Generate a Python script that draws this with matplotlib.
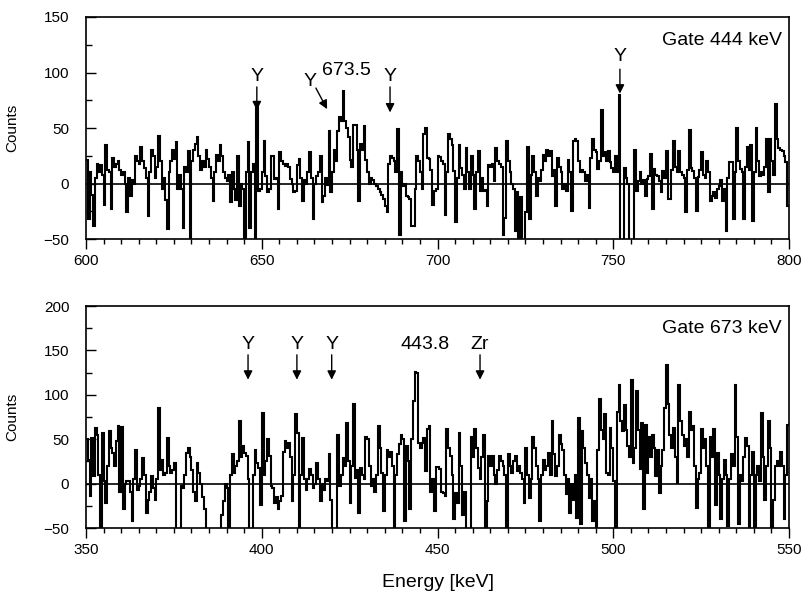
import numpy as np
import matplotlib
matplotlib.use("Agg")
import matplotlib.pyplot as plt
from matplotlib.ticker import MultipleLocator

plt.rcParams['font.family'] = ['Liberation Sans', 'DejaVu Sans']

# ---------------- data ----------------
bin_width = 0.5
top_range = (600, 800)
bottom_range = (350, 550)

# Gate 444 keV spectrum, 0.5 keV bins from 600 keV
top_counts = [
    21, -32, 10, -10, -38, 5, 18, 10, 17, 8,
    -19, 35, 12, 10, -23, 23, 15, 18, 20, 12,
    8, 10, 0, -26, 5, -11, 3, 0, 25, 20,
    18, 33, 20, 14, 5, -29, 10, 30, 25, 5,
    15, 43, 20, -5, 5, -15, -41, 10, 20, 30,
    22, 37, -5, 8, -5, -40, 15, 10, 29, -55,
    20, 30, 36, 42, 25, 12, 20, 15, 30, 22,
    15, 5, -16, 10, 26, 20, 35, 25, 10, 5,
    2, 8, -17, 10, -5, -15, 25, -20, 0, -5,
    -55, 10, 37, -40, 10, 18, -55, 71, -7, -5,
    10, 38, 7, -8, -5, 25, 25, 4, 5, -23,
    28, 20, 18, 16, 18, 15, 4, 0, -8, -7,
    17, 22, 5, -16, 3, 0, 10, 28, 5, -32,
    0, 7, 10, 25, -17, -11, 5, -1, 47, -8,
    10, 30, 20, 47, 60, 56, 83, 56, 50, 42,
    21, 15, 53, 53, 30, -16, 36, 30, 52, 21,
    10, 0, 5, 3, 0, -2, -5, -8, -10, -14,
    -20, -26, 18, 25, 23, 20, 10, 49, -46, 10,
    -2, 0, -11, -12, -14, -38, -38, -5, 25, 20,
    10, -5, 45, 50, 23, 22, 12, -19, -7, -5,
    25, 24, 20, 18, -28, 10, 45, 40, 35, 11,
    -35, 5, 35, 14, 8, -5, 32, 10, -5, 25,
    8, -23, 10, 29, -7, 5, -7, -6, -20, 17,
    15, 18, 2, 32, 20, 18, 15, -46, -31, 38,
    20, 10, 0, -5, -43, -8, -55, -12, -55, -55,
    -26, 33, -32, 8, 25, 10, -11, 5, 2, 12,
    26, 20, 30, 25, 29, 7, 12, -20, 23, 15,
    10, -5, 0, -7, 21, 10, -25, 38, 40, 38,
    20, 10, 12, 10, 2, 8, -22, 23, 40, 30,
    28, 13, 20, 66, 25, 28, 20, 29, 19, 14,
    10, 25, 10, 80, -55, -55, 14, 5, 0, -55,
    -55, -55, 30, -7, 2, 10, 0, 3, -11, 4,
    7, 27, -23, 13, 8, 7, 2, -8, 11, 5,
    29, -14, -14, 12, 38, 15, 10, 29, 10, 8,
    5, -26, 12, 48, 14, 11, 5, -25, 6, 12,
    28, 8, 5, 20, 10, -16, -11, -8, -13, -5,
    -2, 3, -16, -5, -43, 5, 19, 19, -32, 10,
    50, 20, 13, 10, -32, 15, 33, 12, 35, -34,
    10, 50, 20, 7, 10, 8, 15, 40, -8, 40,
    20, 8, 72, 40, 32, 30, 29, 25, 19, -20,
]

# Gate 673 keV spectrum, 0.5 keV bins from 350 keV
bottom_counts = [
    50, 27, -14, 51, 8, 63, 55, 10, -55, 57,
    3, -22, 20, 59, 40, 35, 20, 48, 65, -10,
    64, -29, 0, 3, 3, -10, -42, 5, 38, -7,
    -3, 5, 29, 10, -33, -18, -10, 8, -5, -18,
    5, 85, 15, 27, 10, 12, 51, 20, 12, 15,
    23, -55, -55, -55, -3, -5, 10, 35, 40, 30,
    15, -10, -20, 23, 12, 0, -15, -29, -55, -60,
    -60, -60, -60, -60, -60, -60, -55, -35, -20, 0,
    -5, -55, 10, 33, 12, 20, 25, 70, 30, 42,
    35, 31, 5, -55, -55, 10, 38, 23, 18, -24,
    80, 10, 25, 50, 31, -3, -5, -22, -15, -29,
    -20, -14, 36, 48, 40, 46, 30, -20, 10, 78,
    57, -55, 10, 51, 5, -7, 5, 16, 10, -5,
    0, 23, 5, -20, 0, -7, 5, 3, 33, -18,
    -55, -55, -55, 55, -3, 10, 29, 20, 68, 25,
    -22, 20, 90, 6, 15, -33, 18, 10, 5, 53,
    50, 20, -3, 5, -9, 10, 65, 40, 12, -31,
    10, 38, 30, 36, 20, -55, 10, 33, 45, 55,
    50, -42, 42, 25, -29, 50, 93, 126, 124, 46,
    40, 46, 51, 14, 61, 65, -10, 5, -31, 19,
    19, 16, -9, -11, -14, 61, 40, 31, 10, -40,
    -11, -22, 57, 20, -35, -10, -55, -55, -55, 53,
    30, 61, 40, 18, 5, 30, 55, -55, -20, 31,
    20, 31, 10, 0, 15, 31, 25, 20, 10, -55,
    33, 20, 12, 25, 31, 14, 20, 12, 5, -22,
    40, 10, -16, 5, 53, 40, 20, 5, -42, 10,
    27, 15, 20, 35, 10, 70, 33, 8, 20, 55,
    45, 38, 10, -12, 5, -33, 0, -18, 10, -39,
    74, -46, 59, 40, 23, 10, -16, 5, -42, -20,
    -55, 38, 95, 60, 50, 78, 12, 10, 63, 40,
    3, -55, 81, 111, 70, 59, 89, 60, 42, 30,
    117, 23, 40, 104, 60, 16, 68, -29, 66, 12,
    53, 30, 55, 40, 8, 38, -11, 20, 38, 85,
    134, 90, 55, 40, 63, 30, 1, 111, 70, 55,
    42, 50, 30, 81, 60, 65, 20, -27, 5, 12,
    61, 40, 50, 20, -55, 53, 30, 61, -24, 35,
    10, -40, 5, 27, 10, -48, 5, 33, 20, 111,
    53, -46, 10, 3, 30, 51, 42, -55, 10, 36,
    -55, 10, 20, 3, 80, 30, -18, 20, 70, 40,
    -55, -18, 20, 25, 20, 36, 20, -40, 10, 66,
]

top_ylim = (-50, 150)
bottom_ylim = (-50, 200)
top_xticks = [600, 650, 700, 750, 800]
bottom_xticks = [350, 400, 450, 500, 550]
top_yticks = [-50, 0, 50, 100, 150]
bottom_yticks = [-50, 0, 50, 100, 150, 200]

# annotations: (label, energy, text_y, arrow_start_y, arrow_end_y)
top_marks = [("Y", 648.6, 96, 87, 66), ("Y", 686.5, 96, 87, 64), ("Y", 751.9, 114, 103, 81)]
bottom_marks = [("Y", 396.1, 157, 145, 117), ("Y", 410.0, 157, 145, 117),
                ("Y", 419.9, 157, 145, 117), ("Zr", 462.1, 157, 145, 117)]

# ---------------- figure ----------------
fig = plt.figure(figsize=(8.06, 5.98), dpi=100)
ax1 = fig.add_axes([86/806, 1-239/598, 703/806, 222/598])
ax2 = fig.add_axes([86/806, 1-528/598, 703/806, 222/598])

def draw(ax, counts, xr, ylim, xticks, yticks):
    edges = xr[0] + bin_width*np.arange(len(counts)+1)
    ax.stairs(counts, edges, baseline=None, color='black', lw=1.5)
    ax.axhline(0, color='black', lw=1.2)
    ax.set_xlim(*xr)
    ax.set_ylim(*ylim)
    ax.set_xticks(xticks)
    ax.set_yticks(yticks)
    ax.xaxis.set_minor_locator(MultipleLocator(5))
    ax.yaxis.set_minor_locator(MultipleLocator(25))
    ax.tick_params(axis='x', which='major', direction='out', length=7, width=1.0, labelsize=11, pad=4)
    ax.tick_params(axis='x', which='minor', direction='out', length=3.5, width=1.0)
    ax.tick_params(axis='y', which='major', direction='in', length=7, width=1.0, labelsize=11, pad=12)
    ax.tick_params(axis='y', which='minor', direction='in', length=4, width=1.0)
    for s in ax.spines.values():
        s.set_linewidth(1.2)
    ax.set_ylabel("Counts", fontsize=11)
    ax.yaxis.set_label_coords(-0.095, 0.5)

def mark(ax, label, e, ty, y0, y1):
    ax.text(e, ty, label, ha='center', va='center', fontsize=14)
    ax.annotate('', xy=(e, y1), xytext=(e, y0),
                arrowprops=dict(arrowstyle='-|>', color='black', lw=1.0,
                                mutation_scale=13, shrinkA=0, shrinkB=0))

draw(ax1, top_counts, top_range, top_ylim, top_xticks, top_yticks)
draw(ax2, bottom_counts, bottom_range, bottom_ylim, bottom_xticks, bottom_yticks)

for m in top_marks:
    mark(ax1, *m)
for m in bottom_marks:
    mark(ax2, *m)

# angled Y with 673.5 label
ax1.text(663.8, 92, "Y", ha='center', va='center', fontsize=14)
ax1.annotate('', xy=(668.6, 67), xytext=(665.4, 86),
             arrowprops=dict(arrowstyle='-|>', color='black', lw=1.0,
                             mutation_scale=13, shrinkA=0, shrinkB=0))
ax1.text(674.2, 102, "673.5", ha='center', va='center', fontsize=14)

ax2.text(446.4, 157, "443.8", ha='center', va='center', fontsize=14)

ax1.text(0.99, 0.896, "Gate 444 keV", transform=ax1.transAxes, ha='right', va='center', fontsize=14)
ax2.text(0.99, 0.90, "Gate 673 keV", transform=ax2.transAxes, ha='right', va='center', fontsize=14)

ax2.set_xlabel("Energy [keV]", fontsize=14)
ax2.xaxis.set_label_coords(0.5, -0.205)

fig.savefig("out.png", dpi=100)
